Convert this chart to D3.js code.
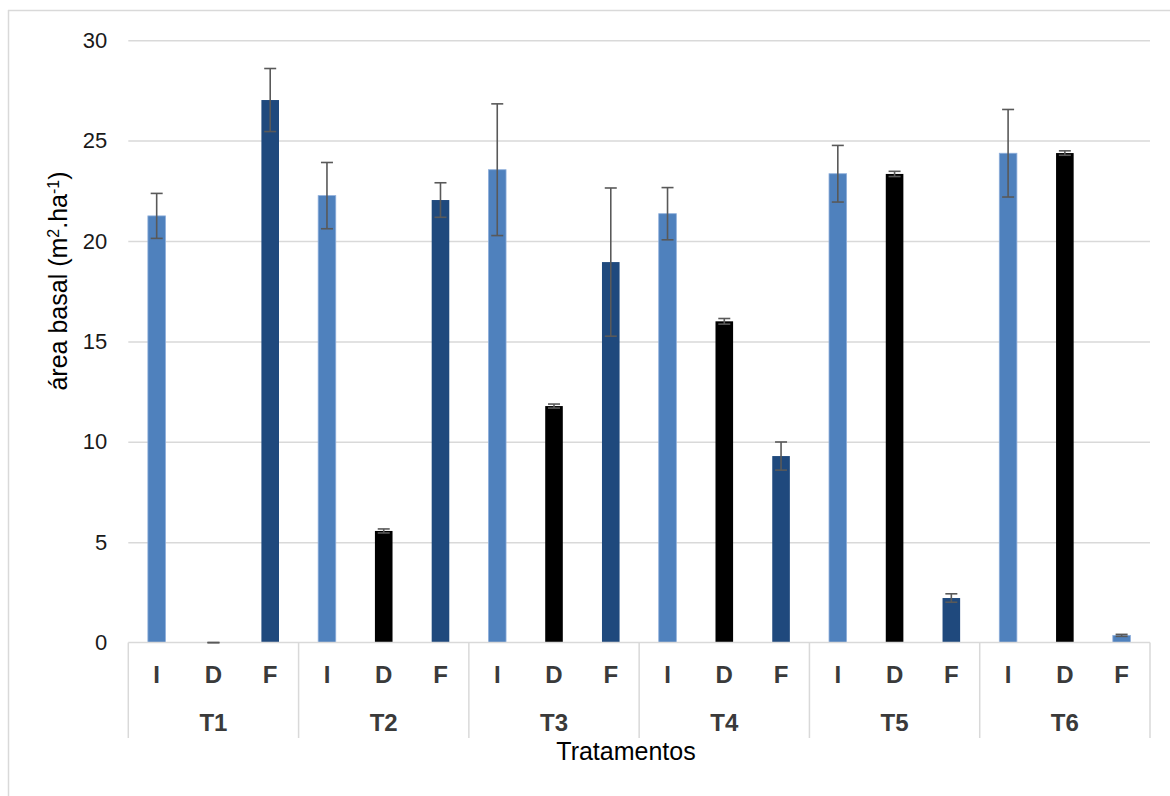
<!DOCTYPE html>
<html>
<head>
<meta charset="utf-8">
<script src="https://cdn.jsdelivr.net/npm/d3@7"></script>
<style>
  html, body { margin: 0; padding: 0; background: #fff; }
  svg { display: block; font-family: "Liberation Sans", Arial, sans-serif; }
</style>
</head>
<body>
<svg id="chart" width="1170" height="796"></svg>
<script>
// Treatments and measurement stages
const groups = ["T1", "T2", "T3", "T4", "T5", "T6"];
const stages = ["I", "D", "F"];

// Basal area (m².ha⁻¹) per treatment, one array per stage, with error half-widths
const valI = [21.25, 22.26, 23.55, 21.36, 23.35, 24.37];
const errI = [1.12, 1.65, 3.28, 1.30, 1.41, 2.18];
const valD = [0.00, 5.56, 11.78, 16.00, 23.34, 24.38];
const errD = [0.00, 0.10, 0.10, 0.14, 0.13, 0.11];
const valF = [27.02, 22.04, 18.95, 9.29, 2.22, 0.36];
const errF = [1.57, 0.86, 3.69, 0.70, 0.21, 0.05];

const yTicks = [0, 5, 10, 15, 20, 25, 30];

// Fill per stage; the last F bar is drawn in the I tone
const fillByStage = { I: "#4f81bd", D: "#000000", F: "#1f497d" };
const fillOverride = { "T6-F": "I" };

const rows = [];
groups.forEach((g, i) => {
  rows.push({ group: g, stage: "I", value: valI[i], err: errI[i] });
  rows.push({ group: g, stage: "D", value: valD[i], err: errD[i] });
  rows.push({ group: g, stage: "F", value: valF[i], err: errF[i] });
});

const svg = d3.select("#chart");
const plot = { left: 128.3, right: 1150, top: 40.2, bottom: 642.6 };
const grid = "#d9d9d9";

// Outer frame
svg.append("line").attr("x1", 8.5).attr("x2", 8.5).attr("y1", 10).attr("y2", 796)
  .attr("stroke", grid).attr("stroke-width", 1.5);
svg.append("line").attr("x1", 8).attr("x2", 1170).attr("y1", 10.5).attr("y2", 10.5)
  .attr("stroke", grid).attr("stroke-width", 1.5);

const xOuter = d3.scaleBand().domain(groups).range([plot.left, plot.right]);
const xInner = d3.scaleBand().domain(stages).range([0, xOuter.bandwidth()]);
const barW = xInner.bandwidth() * 0.31;
const y = d3.scaleLinear().domain([0, 30]).range([plot.bottom, plot.top]);

// Horizontal gridlines
svg.append("g")
  .attr("transform", `translate(${plot.left},0)`)
  .call(d3.axisLeft(y).tickValues(yTicks.slice(1)).tickSize(-(plot.right - plot.left)).tickFormat(""))
  .call(g => g.select(".domain").remove())
  .call(g => g.selectAll(".tick line").attr("stroke", grid).attr("stroke-width", 1.5));

// Y tick labels
svg.append("g")
  .attr("transform", `translate(${plot.left},0)`)
  .call(d3.axisLeft(y).tickValues(yTicks).tickSize(0).tickPadding(21))
  .call(g => g.select(".domain").remove())
  .call(g => g.selectAll("text")
    .attr("font-size", 22).attr("fill", "#1a1a1a")
    .attr("font-family", "'Liberation Sans', Arial, sans-serif"));

// Bars
const cx = d => xOuter(d.group) + xInner(d.stage) + xInner.bandwidth() / 2;
svg.append("g").selectAll("rect").data(rows).enter().append("rect")
  .attr("x", d => cx(d) - barW / 2)
  .attr("width", barW)
  .attr("y", d => y(d.value))
  .attr("height", d => y(0) - y(d.value))
  .attr("fill", d => fillByStage[fillOverride[d.group + "-" + d.stage] || d.stage])
  .attr("stroke", d => (fillOverride[d.group + "-" + d.stage] || d.stage) === "I" ? "#8eaedb" : "none")
  .attr("stroke-width", 0.8);

// Category axis line and group separators
svg.append("line").attr("x1", plot.left).attr("x2", plot.right)
  .attr("y1", y(0)).attr("y2", y(0)).attr("stroke", grid).attr("stroke-width", 1.5);
const seps = groups.map(g => xOuter(g)).concat([plot.right]);
svg.append("g").selectAll("line").data(seps).enter().append("line")
  .attr("x1", d => d).attr("x2", d => d)
  .attr("y1", y(0)).attr("y2", 738)
  .attr("stroke", grid).attr("stroke-width", 1.5);

// Error bars
const errG = svg.append("g").attr("stroke", "#595959").attr("stroke-width", 1.6);
const cap = 6;
rows.forEach(d => {
  const x = cx(d), hi = y(d.value + d.err), lo = y(d.value - d.err);
  errG.append("line").attr("x1", x).attr("x2", x).attr("y1", hi).attr("y2", lo);
  errG.append("line").attr("x1", x - cap).attr("x2", x + cap).attr("y1", hi).attr("y2", hi);
  errG.append("line").attr("x1", x - cap).attr("x2", x + cap).attr("y1", lo).attr("y2", lo);
});

// Stage labels and treatment labels
svg.append("g").selectAll("text").data(rows).enter().append("text")
  .attr("x", d => cx(d)).attr("y", 683)
  .attr("text-anchor", "middle").attr("font-size", 24).attr("font-weight", "bold")
  .attr("fill", "#3a3a3a").text(d => d.stage);
svg.append("g").selectAll("text").data(groups).enter().append("text")
  .attr("x", d => xOuter(d) + xOuter.bandwidth() / 2).attr("y", 731)
  .attr("text-anchor", "middle").attr("font-size", 24).attr("font-weight", "bold")
  .attr("fill", "#3a3a3a").text(d => d);

// Axis titles
svg.append("text").attr("x", 626).attr("y", 760).attr("text-anchor", "middle")
  .attr("font-size", 25).attr("fill", "#000").text("Tratamentos");

const yTitle = svg.append("text")
  .attr("transform", "translate(67,281) rotate(-90)")
  .attr("text-anchor", "middle").attr("font-size", 25).attr("fill", "#000");
yTitle.append("tspan").text("área basal (m");
yTitle.append("tspan").attr("baseline-shift", "super").attr("font-size", 16).text("2");
yTitle.append("tspan").text(".ha");
yTitle.append("tspan").attr("baseline-shift", "super").attr("font-size", 16).text("-1");
yTitle.append("tspan").text(")");
</script>
</body>
</html>
